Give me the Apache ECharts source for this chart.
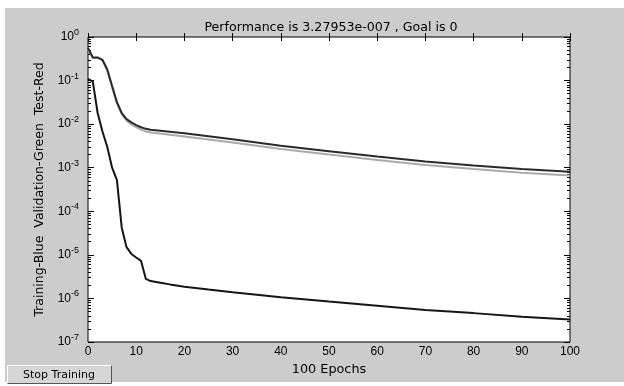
<!DOCTYPE html>
<html>
<head>
<meta charset="utf-8">
<script src="https://cdn.jsdelivr.net/npm/echarts@6/dist/echarts.min.js"></script>
<style>
  html, body { margin: 0; padding: 0; background: #fff; }
  #chart { width: 624px; height: 386px; }
</style>
</head>
<body>
<div id="chart"></div>
<script>
// ---- data (performance vs. epoch, log scale) ----
var trainEpochs = [0, 1, 2, 3, 4, 5, 6, 7, 8, 9, 10, 11, 12, 13, 15, 17, 20, 25, 30, 40, 50, 60, 70, 80, 90, 100];
var trainPerf   = [0.11, 0.095, 0.018, 0.0068, 0.003, 0.001, 0.00052, 0.000042, 0.000015, 0.0000105, 0.0000087,
                   0.0000073, 0.0000028, 0.0000025, 0.0000023, 0.0000021, 0.00000186, 0.0000016, 0.00000138,
                   0.00000107, 0.00000085, 0.00000068, 0.00000054, 0.00000046, 0.00000038, 3.27953e-7];

var valEpochs = [0, 1, 2, 3, 4, 5, 6, 7, 8, 9, 10, 11, 12, 13, 20, 30, 40, 50, 60, 70, 80, 90, 100];
var valPerf   = [0.56, 0.34, 0.34, 0.30, 0.18, 0.075, 0.032, 0.018, 0.013, 0.011, 0.0095, 0.0085, 0.0078, 0.0074,
                 0.0062, 0.0045, 0.0032, 0.0024, 0.0018, 0.00138, 0.00112, 0.00093, 0.00081];

var testEpochs = [0, 1, 2, 3, 4, 5, 6, 7, 8, 9, 10, 11, 12, 13, 20, 30, 40, 50, 60, 70, 80, 90, 100];
var testPerf   = [0.52, 0.33, 0.33, 0.29, 0.17, 0.07, 0.03, 0.017, 0.012, 0.0098, 0.0085, 0.0075, 0.0068, 0.0064,
                  0.0052, 0.0038, 0.0027, 0.002, 0.0015, 0.00116, 0.00094, 0.00077, 0.00066];

var decadeExps  = [-7, -6, -5, -4, -3, -2, -1, 0];
var mantissas   = [2, 3, 4, 5, 6, 7, 8, 9];
var xTicks      = [0, 10, 20, 30, 40, 50, 60, 70, 80, 90, 100];

var titleText = "Performance is 3.27953e-007 , Goal is 0";
var xName     = "100 Epochs";
var yName     = "Training-Blue  Validation-Green  Test-Red";

// ---- helpers ----
function toPairs(xs, ys) {
  return xs.map(function(x, i) { return [x, Math.log10(ys[i])]; });
}
var minorTicks = [];
decadeExps.slice(0, -1).forEach(function(e) {
  mantissas.forEach(function(m) { minorTicks.push(e + Math.log10(m)); });
});

var FONT  = "Liberation Sans, Arial, sans-serif";   // tick digits
var TFONT = "DejaVu Sans, sans-serif";              // wider text (title, names, button)
var BG    = "#cccccc";

var chart = echarts.init(document.getElementById("chart"));

function yAxisBase(pos, values, len, showLabel) {
  return {
    type: "value",
    position: pos,
    min: -7, max: 0, interval: 1,
    axisLine: { show: false },
    splitLine: { show: false },
    axisTick: { show: true, inside: true, length: len, customValues: values, lineStyle: { color: "#000", width: 1 } },
    axisLabel: showLabel ? {
      show: true,
      margin: 9,
      fontFamily: FONT,
      fontSize: 12,
      color: "#000",
      formatter: function(v) { return "{b|10}{s|" + Math.round(v) + "}"; },
      rich: {
        b: { fontSize: 12, fontFamily: FONT, color: "#000" },
        s: { fontSize: 9, fontFamily: FONT, color: "#000", padding: [0, 0, 9, 0] }
      }
    } : { show: false }
  };
}

chart.setOption({
  backgroundColor: "#fff",
  animation: false,
  title: {
    text: titleText,
    left: 326, top: 16,
    textAlign: "center",
    textStyle: { fontFamily: TFONT, fontSize: 12.6, fontWeight: "normal", color: "#000" }
  },
  grid: {
    left: 88, right: 54, top: 37, bottom: 44,
    show: true,
    backgroundColor: "#fff",
    borderColor: "#000",
    borderWidth: 1
  },
  xAxis: [
    {
      type: "value", position: "bottom",
      min: 0, max: 100, interval: 10,
      name: xName, nameLocation: "middle", nameGap: 20,
      nameTextStyle: { fontFamily: TFONT, fontSize: 12.8, color: "#000" },
      axisLine: { show: false },
      splitLine: { show: false },
      axisTick: { show: true, inside: true, length: 4, lineStyle: { color: "#000" } },
      axisLabel: { fontFamily: FONT, fontSize: 12, color: "#000", margin: 4,
                   customValues: xTicks }
    },
    {
      type: "value", position: "top",
      min: 0, max: 100, interval: 10,
      axisLine: { show: false },
      splitLine: { show: false },
      axisTick: { show: true, inside: true, length: 4, lineStyle: { color: "#000" } },
      axisLabel: { show: false }
    }
  ],
  yAxis: [
    Object.assign(yAxisBase("left", decadeExps, 6, true), {
      name: yName, nameLocation: "middle", nameGap: 42, nameRotate: 90,
      nameTextStyle: { fontFamily: TFONT, fontSize: 12.5, color: "#000" }
    }),
    yAxisBase("left", minorTicks, 3, false),
    yAxisBase("right", decadeExps, 6, false),
    yAxisBase("right", minorTicks, 3, false)
  ],
  graphic: [
    { type: "rect", z: -10, silent: true, shape: { x: 5, y: 8, width: 619, height: 374 }, style: { fill: BG } },
    {
      type: "group", left: 5, top: 363, z: 10,
      children: [
        { type: "rect", shape: { x: 0, y: 0, width: 105, height: 19 }, style: { fill: "#d6d6d6" } },
        { type: "polyline", shape: { points: [[0.5, 18.5], [0.5, 0.5], [104.5, 0.5]] }, style: { stroke: "#fff", lineWidth: 1, fill: null } },
        { type: "polyline", shape: { points: [[0.5, 18.5], [104.5, 18.5], [104.5, 0.5]] }, style: { stroke: "#555", lineWidth: 1, fill: null } },
        { type: "text", x: 52, y: 10, style: { text: "Stop Training", fontFamily: TFONT, fontSize: 11, fill: "#000", align: "center", verticalAlign: "middle" } }
      ]
    }
  ],
  series: [
    {
      name: "Validation", type: "line", data: toPairs(valEpochs, valPerf),
      showSymbol: false, symbol: "none", z: 3,
      lineStyle: { color: "#2a2a2a", width: 2 }
    },
    {
      name: "Test", type: "line", data: toPairs(testEpochs, testPerf),
      showSymbol: false, symbol: "none", z: 2,
      lineStyle: { color: "#aaaaaa", width: 2 }
    },
    {
      name: "Training", type: "line", data: toPairs(trainEpochs, trainPerf),
      showSymbol: false, symbol: "none", z: 4,
      lineStyle: { color: "#151515", width: 2 }
    }
  ]
});
</script>
</body>
</html>
